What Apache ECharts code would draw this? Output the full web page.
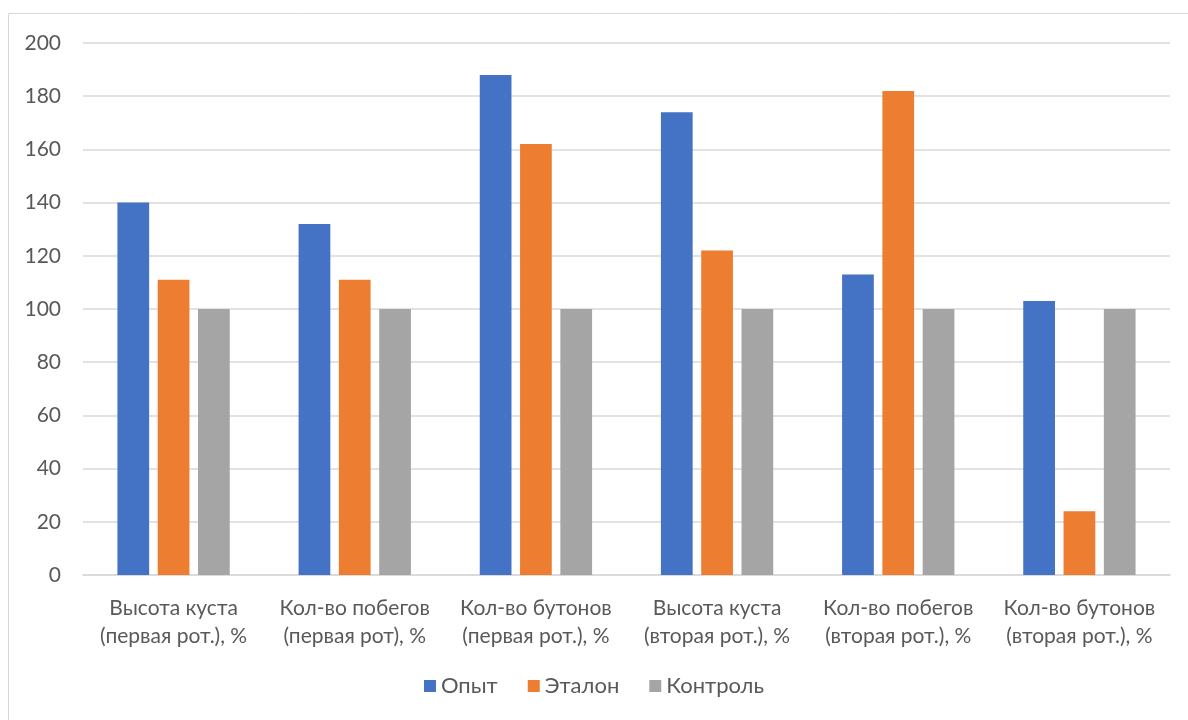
<!DOCTYPE html>
<html><head><meta charset="utf-8">
<script src="https://cdn.jsdelivr.net/npm/echarts@6/dist/echarts.min.js"></script>
<style>html,body{margin:0;padding:0;background:#fff}#c{width:1188px;height:720px}</style>
</head><body><div id="c"></div>
<script>
const categories = [
  'Высота куста\n(первая рот.), %',
  'Кол-во побегов\n(первая рот), %',
  'Кол-во бутонов\n(первая рот.), %',
  'Высота куста\n(вторая рот.), %',
  'Кол-во побегов\n(вторая рот.), %',
  'Кол-во бутонов\n(вторая рот.), %'
];
const seriesNames = ['Опыт', 'Эталон', 'Контроль'];
const opyt = [140, 132, 188, 174, 113, 103];
const etalon = [111, 111, 162, 122, 182, 24];
const kontrol = [100, 100, 100, 100, 100, 100];
const colors = ['#4472C4', '#ED7D31', '#A5A5A5'];
const font = 'Lato, "Open Sans", sans-serif';
const chart = echarts.init(document.getElementById('c'));
const mk = (name, data, i) => ({name, type: 'bar', data, barGap: '27%', barCategoryGap: '38%',
  itemStyle: {color: colors[i]}});
chart.setOption({
  animation: false,
  textStyle: {fontFamily: font},
  graphic: [{type: 'rect', shape: {x: 8.5, y: 13.5, width: 1200, height: 800},
    style: {fill: 'none', stroke: '#d9d9d9', lineWidth: 1}, silent: true}],
  grid: {left: 83, right: 18, top: 43, bottom: 145},
  legend: {bottom: 18, left: 'center', itemWidth: 12, itemHeight: 12, itemGap: 30,
    icon: 'rect', textStyle: {color: '#595959', fontSize: 22, fontFamily: font}, data: seriesNames},
  xAxis: {type: 'category', data: categories,
    axisLine: {lineStyle: {color: '#d9d9d9', width: 1.5}}, axisTick: {show: false},
    axisLabel: {color: '#595959', fontSize: 21, lineHeight: 28, margin: 19, interval: 0, fontFamily: font}},
  yAxis: {type: 'value', min: 0, max: 200, interval: 20,
    axisLine: {show: false}, axisTick: {show: false},
    splitLine: {lineStyle: {color: '#d9d9d9', width: 1.5}},
    axisLabel: {color: '#595959', fontSize: 21, margin: 22, fontFamily: font}},
  series: [mk(seriesNames[0], opyt, 0), mk(seriesNames[1], etalon, 1), mk(seriesNames[2], kontrol, 2)]
});
</script></body></html>
